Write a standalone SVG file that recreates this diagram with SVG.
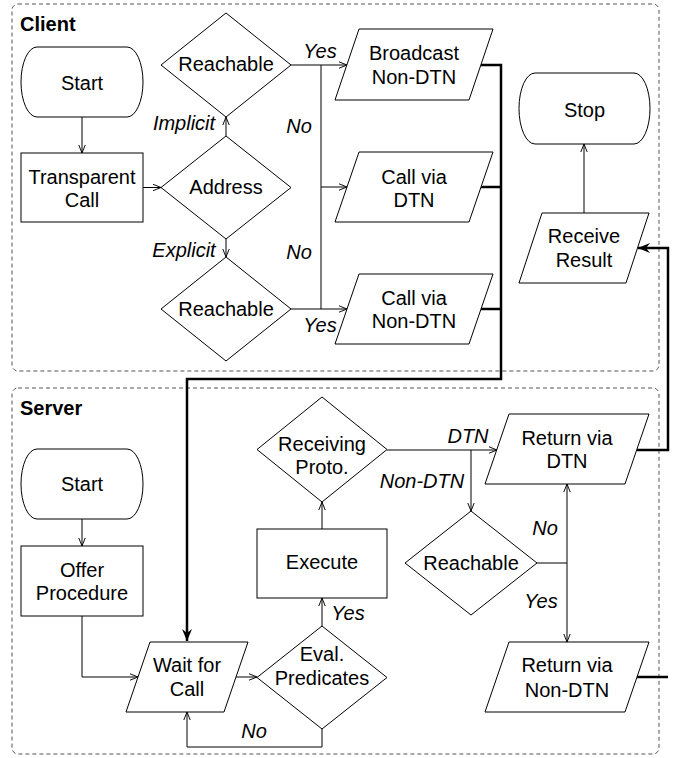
<svg xmlns="http://www.w3.org/2000/svg" width="678" height="758" viewBox="0 0 678 758">
<style>
text{font-family:"Liberation Sans",Arial,sans-serif;font-size:20px;fill:#000;text-anchor:middle}
.lbl{font-style:italic}
.title{font-weight:bold;text-anchor:start}
.shape{fill:#fff;stroke:#000;stroke-width:1}
.box{fill:none;stroke:#555;stroke-width:1;stroke-dasharray:4 3}
.thin{fill:none;stroke:#000;stroke-width:1}
.thick{fill:none;stroke:#000;stroke-width:2.5}
</style>
<defs>
<marker id="a" viewBox="0 0 10 10" refX="10" refY="5" markerWidth="8" markerHeight="8" markerUnits="userSpaceOnUse" orient="auto">
<path d="M0,1 L10,5 L0,9" fill="none" stroke="#000" stroke-width="1.2"/>
</marker>
<marker id="b" viewBox="0 0 12 12" refX="12" refY="6" markerWidth="12" markerHeight="12" markerUnits="userSpaceOnUse" orient="auto">
<path d="M0,1 L12,6 L0,11 L4,6 z" fill="#000"/>
</marker>
</defs>

<g id="containers">
<rect class="box" x="12" y="4" width="647" height="367" rx="6"/>
<rect class="box" x="12" y="388" width="647" height="366" rx="6"/>
<text class="title" x="20" y="31">Client</text>
<text class="title" x="20" y="415">Server</text>
</g>

<g id="connectors">
<path class="thin" d="M82,117 V153" marker-end="url(#a)"/>
<path class="thin" d="M143,187.5 H161" marker-end="url(#a)"/>
<path class="thin" d="M226,136 V117" marker-end="url(#a)"/>
<path class="thin" d="M226,239 V257" marker-end="url(#a)"/>
<path class="thin" d="M291,65 H347" marker-end="url(#a)"/>
<path class="thin" d="M321,65 V309"/>
<path class="thin" d="M321,187 H347" marker-end="url(#a)"/>
<path class="thin" d="M291,309 H347" marker-end="url(#a)"/>
<path class="thick" d="M481,65 H501 V379 H187 V641" marker-end="url(#b)"/>
<path class="thick" d="M481,187 H501"/>
<path class="thick" d="M481,309 H501"/>
<path class="thin" d="M584,213 V144" marker-end="url(#a)"/>
<path class="thick" d="M637,450 H668 V248 H638" marker-end="url(#b)"/>
<path class="thick" d="M637,677 H668"/>
<path class="thin" d="M82,519 V546" marker-end="url(#a)"/>
<path class="thin" d="M82,616 V677 H138" marker-end="url(#a)"/>
<path class="thin" d="M236,677 H257" marker-end="url(#a)"/>
<path class="thin" d="M322,626 V598" marker-end="url(#a)"/>
<path class="thin" d="M322,729 V747 H187 V712" marker-end="url(#a)"/>
<path class="thin" d="M322,529 V502" marker-end="url(#a)"/>
<path class="thin" d="M387,450 H497" marker-end="url(#a)"/>
<path class="thin" d="M471,450 V511" marker-end="url(#a)"/>
<path class="thin" d="M537,563 H567"/>
<path class="thin" d="M567,563 V484" marker-end="url(#a)"/>
<path class="thin" d="M567,563 V642" marker-end="url(#a)"/>
<text class="lbl" x="184" y="130">Implicit</text>
<text class="lbl" x="184" y="257">Explicit</text>
<text class="lbl" x="320" y="58">Yes</text>
<text class="lbl" x="299" y="133">No</text>
<text class="lbl" x="299" y="259">No</text>
<text class="lbl" x="320" y="332">Yes</text>
<text class="lbl" x="468" y="443">DTN</text>
<text class="lbl" x="422" y="488">Non-DTN</text>
<text class="lbl" x="545" y="535">No</text>
<text class="lbl" x="541" y="608">Yes</text>
<text class="lbl" x="348" y="620">Yes</text>
<text class="lbl" x="254" y="738">No</text>
</g>

<g id="c-start">
<rect class="shape" x="21" y="47" width="122" height="70" rx="16" ry="35"/>
<text x="82" y="89.5">Start</text>
</g>
<g id="c-transparent">
<rect class="shape" x="21" y="153" width="122" height="69"/>
<text x="82" y="184">Transparent</text>
<text x="82" y="207">Call</text>
</g>
<g id="c-address">
<polygon class="shape" points="226,136 291,187.5 226,239 161,187.5"/>
<text x="226" y="194">Address</text>
</g>
<g id="c-reach1">
<polygon class="shape" points="226,13 291,65 226,117 161,65"/>
<text x="226" y="71">Reachable</text>
</g>
<g id="c-reach2">
<polygon class="shape" points="226,257 291,309 226,361 161,309"/>
<text x="226" y="316">Reachable</text>
</g>
<g id="c-broadcast">
<polygon class="shape" points="359,29 493,29 469,100 335,100"/>
<text x="414" y="60">Broadcast</text>
<text x="414" y="84">Non-DTN</text>
</g>
<g id="c-calldtn">
<polygon class="shape" points="359,152 493,152 469,222 335,222"/>
<text x="414" y="183.5">Call via</text>
<text x="414" y="207">DTN</text>
</g>
<g id="c-callnondtn">
<polygon class="shape" points="359,274 493,274 469,344 335,344"/>
<text x="414" y="305">Call via</text>
<text x="414" y="328">Non-DTN</text>
</g>
<g id="c-stop">
<rect class="shape" x="519" y="73" width="131" height="71" rx="16" ry="35.5"/>
<text x="584.5" y="117">Stop</text>
</g>
<g id="c-receive">
<polygon class="shape" points="542,213 649,213 626,283 519,283"/>
<text x="584" y="243">Receive</text>
<text x="584" y="267">Result</text>
</g>

<g id="s-start">
<rect class="shape" x="21" y="449" width="122" height="70" rx="16" ry="35"/>
<text x="82" y="491">Start</text>
</g>
<g id="s-offer">
<rect class="shape" x="21" y="546" width="122" height="70"/>
<text x="82" y="576.5">Offer</text>
<text x="82" y="600">Procedure</text>
</g>
<g id="s-wait">
<polygon class="shape" points="150,642 248,642 224,712 126,712"/>
<text x="187" y="672">Wait for</text>
<text x="187" y="696">Call</text>
</g>
<g id="s-eval">
<polygon class="shape" points="322,626 387,677.5 322,729 257,677.5"/>
<text x="322" y="661">Eval.</text>
<text x="322" y="684.5">Predicates</text>
</g>
<g id="s-execute">
<rect class="shape" x="257" y="529" width="130" height="69"/>
<text x="322" y="569">Execute</text>
</g>
<g id="s-receiving">
<polygon class="shape" points="322,397 387,449.5 322,502 257,449.5"/>
<text x="322" y="451">Receiving</text>
<text x="322" y="474">Proto.</text>
</g>
<g id="s-reach">
<polygon class="shape" points="471,511 537,563 471,615 405,563"/>
<text x="471" y="570">Reachable</text>
</g>
<g id="s-retdtn">
<polygon class="shape" points="509,414 649,414 625,484 485,484"/>
<text x="567" y="445">Return via</text>
<text x="567" y="468">DTN</text>
</g>
<g id="s-retnondtn">
<polygon class="shape" points="509,642 649,642 625,712 485,712"/>
<text x="567" y="672">Return via</text>
<text x="567" y="697">Non-DTN</text>
</g>
</svg>
